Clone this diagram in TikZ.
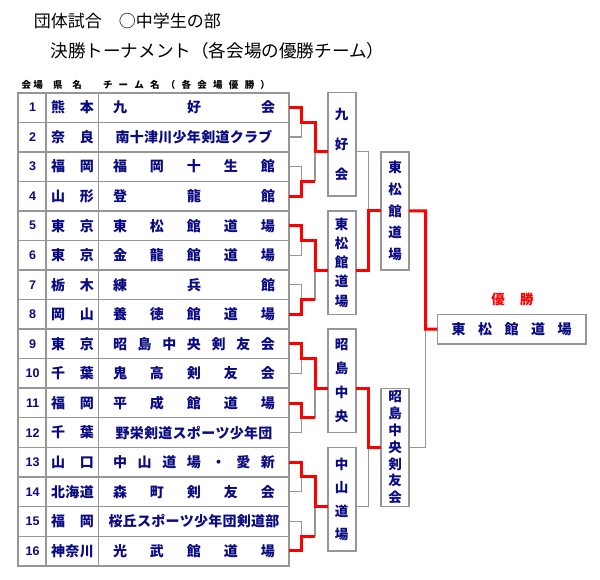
\documentclass[tikz,border=0pt]{standalone}
\usepackage{fontspec}
\setmainfont{Noto Sans CJK JP}
\newfontfamily\numfont{Liberation Sans}
\usetikzlibrary{calc}
\definecolor{navy}{RGB}{10,10,130}
\definecolor{lgray}{RGB}{150,150,150}
\definecolor{wred}{RGB}{255,0,0}
\ExplSyntaxOn
\cs_new_protected:Npn \my_spread:nn #1#2
  {
    \makebox[#1]
      {
        \bool_set_false:N \l_tmpa_bool
        \tl_map_inline:nn {#2}
          { \bool_if:NT \l_tmpa_bool { \hfill } ##1 \bool_set_true:N \l_tmpa_bool }
      }
  }
\cs_generate_variant:Nn \my_spread:nn {no}
\NewDocumentCommand\spreadtext{mm}{ \my_spread:no {#1}{#2} }
\ExplSyntaxOff
\begin{document}
\begin{tikzpicture}[x=1pt,y=-1pt,
  every node/.style={inner sep=0pt,outer sep=0pt},
  tline/.style={draw=lgray,line width=1.2pt},
  gline/.style={draw=lgray,line width=1.7pt},
  loser/.style={draw=lgray,line width=1.3pt},
  winner/.style={draw=wred,line width=3pt},
  rbox/.style={draw=lgray,line width=1.6pt,fill=white,minimum width=28pt,text=navy,align=center},
  celltxt/.style={text=navy,font={\bfseries\fontsize{14}{14}\selectfont}},
  numtxt/.style={text=navy,font={\numfont\bfseries\fontsize{12.5}{12.5}\selectfont}},
  headtxt/.style={text=black,font={\bfseries\fontsize{9.5}{9.5}\selectfont}}
]
\useasboundingbox (0,0) rectangle (600,580);

% titles
\node[anchor=west,font={\fontsize{17}{17}\selectfont}] (title1) at (34,20.7) {団体試合　○中学生の部};
\node[anchor=west,font={\fontsize{17.6}{17.6}\selectfont}] (title2) at (50.5,50.7) {決勝トーナメント（各会場の優勝チーム）};

% column headers
\node[headtxt] (hd1) at (32.3,85) {\spreadtext{21.3pt}{会場}};
\node[headtxt] (hd2) at (67.5,85) {\spreadtext{29pt}{県名}};
\node[headtxt] (hd3) at (186.5,85) {\spreadtext{167pt}{チーム名（各会場優勝）}};

% table grid
\foreach \k in {1,3,...,15} \draw[tline] (18,{92.7+\k*29.56}) -- (289,{92.7+\k*29.56});
\foreach \k in {2,4,...,14} \draw[gline] (18,{92.7+\k*29.56}) -- (289,{92.7+\k*29.56});
\draw[tline] (46,92.7) -- (46,565.66);
\draw[tline] (98.3,92.7) -- (98.3,565.66);
\draw[gline] (18,92.7) rectangle (289,565.66);

% rows
\foreach \i/\pref/\team/\w in {
  1/熊本/九好会/162,
  2/奈良/南十津川少年剣道クラブ/157,
  3/福岡/福岡十生館/162,
  4/山形/登龍館/162,
  5/東京/東松館道場/162,
  6/東京/金龍館道場/162,
  7/栃木/練兵館/162,
  8/岡山/養徳館道場/162,
  9/東京/昭島中央剣友会/162,
  10/千葉/鬼高剣友会/162,
  11/福岡/平成館道場/162,
  12/千葉/野栄剣道スポーツ少年団/157,
  13/山口/中山道場・愛新/162,
  14/北海道/森町剣友会/162,
  15/福岡/桜丘スポーツ少年団剣道部/171,
  16/神奈川/光武館道場/162}{
  \node[numtxt] (num\i) at (32.7,{92.7+(\i-0.5)*29.56}) {\i};
  \node[celltxt] (pref\i) at (72.5,{92.7+(\i-0.5)*29.56}) {\spreadtext{43pt}{\pref}};
  \node[celltxt] (team\i) at (194,{92.7+(\i-0.5)*29.56}) {\spreadtext{\w pt}{\team}};
  \coordinate (r\i) at (289,{92.7+(\i-0.5)*29.56});
}

% joints
\foreach \p in {1,...,8}{
  \coordinate (j\p) at (301.7,{92.7+(2*\p-1)*29.56});
  \coordinate (q\p) at (315,{92.7+(2*\p-1)*29.56});
}
\foreach \m in {1,...,4}{
  \coordinate (g\m) at (315,{92.7+(4*\m-2)*29.56});
}
\coordinate (h1) at (368.3,{92.7+4*29.56});
\coordinate (h2) at (368.3,{92.7+12*29.56});
\coordinate (fj) at (425.7,{92.7+8*29.56});

% boxes
\node[rbox,minimum height=103.46pt,font={\bfseries\fontsize{13.5}{30}\selectfont}] (b1) at (341.7,144.43) {九\\好\\会};
\node[rbox,minimum height=103.46pt,font={\bfseries\fontsize{13.5}{19.2}\selectfont}] (b2) at (341.7,262.67) {東\\松\\館\\道\\場};
\node[rbox,minimum height=103.46pt,font={\bfseries\fontsize{13.5}{24}\selectfont}] (b3) at (341.7,380.91) {昭\\島\\中\\央};
\node[rbox,minimum height=103.46pt,font={\bfseries\fontsize{13.5}{23.5}\selectfont}] (b4) at (341.7,499.15) {中\\山\\道\\場};
\node[rbox,minimum height=118.24pt,font={\bfseries\fontsize{13.5}{21.8}\selectfont}] (s1) at (395,210.94) {東\\松\\館\\道\\場};
\node[rbox,minimum height=118.24pt,font={\bfseries\fontsize{13.5}{16.8}\selectfont}] (s2) at (395,447.42) {昭\\島\\中\\央\\剣\\友\\会};
\node[rbox,minimum width=148.7pt,minimum height=29.7pt,font={\bfseries\fontsize{14}{14}\selectfont}] (fin) at (511.65,329.18) {\spreadtext{120pt}{東松館道場}};
\node[text=wred,font={\bfseries\fontsize{13.5}{13.5}\selectfont}] (yusho) at (512.5,299) {\spreadtext{42.4pt}{優勝}};

% round 1: losers
\draw[loser] (r2) -| (j1);
\draw[loser] (r3) -| (j2);
\draw[loser] (r6) -| (j3);
\draw[loser] (r7) -| (j4);
\draw[loser] (r10) -| (j5);
\draw[loser] (r12) -| (j6);
\draw[loser] (r14) -| (j7);
\draw[loser] (r15) -| (j8);
% round 2: losers
\draw[loser] (q2) -- (g1);
\draw[loser] (q4) -- (g2);
\draw[loser] (q6) -- (g3);
\draw[loser] (q8) -- (g4);
% round 3 / final: losers
\draw[loser] (b1.east |- g1) -| (h1);
\draw[loser] (b4.east |- g4) -| (h2);
\draw[loser] (s2.east |- h2) -| (fj);

% winners
\draw[winner] (r1) -| (j1) -- (q1) -- (g1) -- (b1.west |- g1);
\draw[winner] (r4) -| (j2) -- (q2);
\draw[winner] (r5) -| (j3) -- (q3) -- (g2) -- (b2.west |- g2);
\draw[winner] (r8) -| (j4) -- (q4);
\draw[winner] (r9) -| (j5) -- (q5) -- (g3) -- (b3.west |- g3);
\draw[winner] (r11) -| (j6) -- (q6);
\draw[winner] (r13) -| (j7) -- (q7) -- (g4) -- (b4.west |- g4);
\draw[winner] (r16) -| (j8) -- (q8);
\draw[winner] (b2.east |- g2) -| (h1) -- (s1.west |- h1);
\draw[winner] (b3.east |- g3) -| (h2) -- (s2.west |- h2);
\draw[winner] (s1.east |- h1) -| (fj) -- (fin.west);
\end{tikzpicture}
\end{document}
